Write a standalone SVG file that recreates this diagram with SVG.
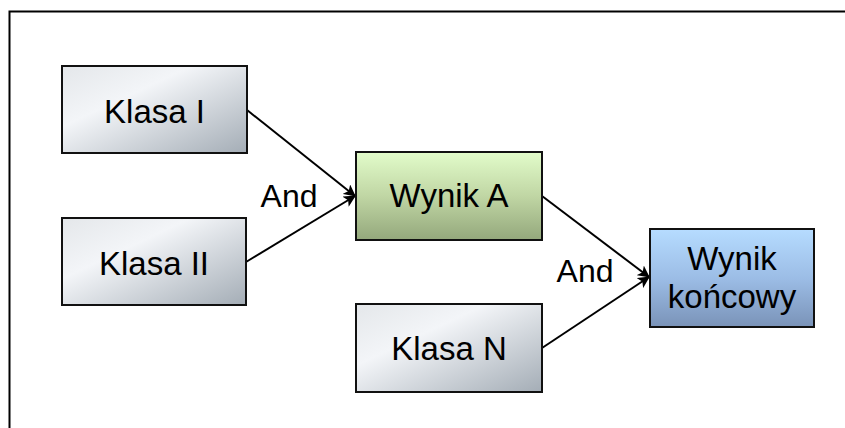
<svg xmlns="http://www.w3.org/2000/svg" width="845" height="428" viewBox="0 0 845 428">
  <style>
    .box { stroke: #111; stroke-width: 2; }
    .lbl { font-family: "Liberation Sans", Arial, sans-serif; font-size: 33px; fill: #000; text-anchor: middle; }
    .and { font-family: "Liberation Sans", Arial, sans-serif; font-size: 32px; fill: #000; text-anchor: middle; }
    .edge { stroke: #000; stroke-width: 2; fill: none; marker-end: url(#arrow); }
  </style>
  <defs>
    <linearGradient id="grey" x1="0" y1="0" x2="1" y2="1">
      <stop offset="0" stop-color="#e4e7ea"/>
      <stop offset="0.35" stop-color="#f3f5f8"/>
      <stop offset="1" stop-color="#a4adb6"/>
    </linearGradient>
    <linearGradient id="green" x1="0" y1="0" x2="0" y2="1">
      <stop offset="0" stop-color="#e2fcca"/>
      <stop offset="0.5" stop-color="#c0d6a4"/>
      <stop offset="1" stop-color="#94a87c"/>
    </linearGradient>
    <linearGradient id="blue" x1="0" y1="0" x2="0" y2="1">
      <stop offset="0" stop-color="#b6dcff"/>
      <stop offset="0.5" stop-color="#9cbde6"/>
      <stop offset="1" stop-color="#7a93b8"/>
    </linearGradient>
    <marker id="arrow" viewBox="0 0 12 12" refX="11" refY="6" markerWidth="12" markerHeight="12" markerUnits="userSpaceOnUse" orient="auto">
      <path d="M0,0 L12,6 L0,12 L3,6 Z" fill="#000"/>
    </marker>
  </defs>

  <!-- outer frame (top and left edges) -->
  <path d="M9.5,428 V11.5 H845" fill="none" stroke="#000" stroke-width="2"/>

  <g id="connectors">
    <line class="edge" x1="247" y1="110" x2="355" y2="196"/>
    <line class="edge" x1="246" y1="262" x2="355" y2="196"/>
    <line class="edge" x1="542" y1="196" x2="649" y2="277"/>
    <line class="edge" x1="542" y1="348" x2="649" y2="277"/>
    <text class="and" x="289" y="207">And</text>
    <text class="and" x="585" y="282">And</text>
  </g>

  <g id="klasa1">
    <rect class="box" x="62" y="66" width="185" height="87" fill="url(#grey)"/>
    <text class="lbl" x="154.5" y="123">Klasa I</text>
  </g>

  <g id="klasa2">
    <rect class="box" x="62" y="218" width="184" height="87" fill="url(#grey)"/>
    <text class="lbl" x="154" y="275">Klasa II</text>
  </g>

  <g id="wynikA">
    <rect class="box" x="356" y="152" width="186" height="88" fill="url(#green)"/>
    <text class="lbl" x="449" y="207">Wynik A</text>
  </g>

  <g id="klasaN">
    <rect class="box" x="356" y="304" width="186" height="88" fill="url(#grey)"/>
    <text class="lbl" x="449" y="360">Klasa N</text>
  </g>

  <g id="wynikKoncowy">
    <rect class="box" x="650" y="229" width="164" height="98" fill="url(#blue)"/>
    <text class="lbl" x="732" y="270">Wynik</text>
    <text class="lbl" x="732" y="308">końcowy</text>
  </g>
</svg>
